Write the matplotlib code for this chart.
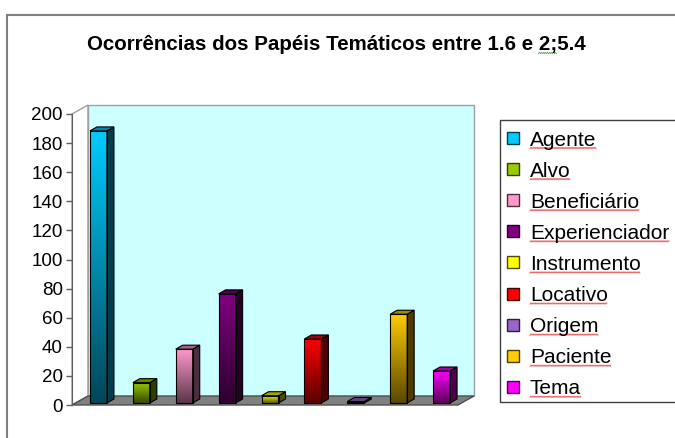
import matplotlib
matplotlib.use("Agg")
import matplotlib.pyplot as plt
import numpy as np
from matplotlib.colors import to_rgb
from matplotlib.font_manager import FontProperties
from matplotlib.patches import Polygon, Rectangle

roles = ["Agente", "Alvo", "Beneficiário", "Experienciador", "Instrumento",
         "Locativo", "Origem", "Paciente", "Tema"]
counts = [187, 14, 37, 75, 5, 44, 1, 61, 22]
colors = ["#00ccff", "#99cc00", "#ff99cc", "#800080", "#ffff00",
          "#ff0000", "#9966cc", "#ffcc00", "#ff00ff"]
yticks = list(range(0, 201, 20))
title = "Ocorrências dos Papéis Temáticos entre 1.6 e 2;5.4"
flagged = "2;"

W, H = 675, 438
plt.rcParams["font.family"] = ["Liberation Sans", "DejaVu Sans"]

fig = plt.figure(figsize=(W / 100, H / 100), dpi=100)

# overlay in pixel units, origin at top-left
ov = fig.add_axes([0, 0, 1, 1])
ov.set_xlim(0, W)
ov.set_ylim(H, 0)
ov.axis("off")

# page frame
ov.plot([7, 7], [15, H], color="#808080", lw=1.5)
ov.plot([7, W], [15, 15], color="#808080", lw=1.5)

# plot area
x0, y0, pw, ph = 72, 405, 386, 291
ax = fig.add_axes([x0 / W, (H - y0) / H, pw / W, ph / H])
ax.set_facecolor("none")
n = len(roles)
ymax = yticks[-1]
kx, ky = n / pw, ymax / ph  # data units per pixel

# walls and floor
wx, wy = 16 * kx, 9 * ky
ax.add_patch(Polygon([(0, 0), (wx, wy), (wx, ymax + wy), (0, ymax)],
                     facecolor="white", edgecolor="#a0a0a0", lw=1, clip_on=False, zorder=1))
ax.add_patch(Rectangle((wx, wy), n, ymax, facecolor="#ccffff",
                       edgecolor="#a0a0a0", lw=1, clip_on=False, zorder=1))
ax.add_patch(Polygon([(0, 0), (n, 0), (n + wx, wy), (wx, wy)],
                     facecolor="#808080", edgecolor="#505050", lw=1, clip_on=False, zorder=2))


def shade(c, f):
    return tuple(np.array(to_rgb(c)) * f)


# 3D bars: front face with vertical gradient, plus side and top faces
bw = 17 * kx
fx, fy = 5 * kx, 2 * ky
dx, dy = 7 * kx, 4 * ky
for i, (v, c) in enumerate(zip(counts, colors)):
    left = i + 0.5 - bw / 2 + fx
    right = left + bw
    bot = fy
    top = fy + v
    grad = np.linspace(1.0, 0.35, 128)[:, None, None] * np.array(to_rgb(c))[None, None, :]
    img = ax.imshow(grad, extent=[left, right, bot, top], aspect="auto",
                    origin="upper", zorder=3, interpolation="bilinear")
    face = Rectangle((left, bot), bw, v, facecolor="none", edgecolor="black",
                     lw=0.8, zorder=4, clip_on=False)
    ax.add_patch(face)
    img.set_clip_path(face)
    img.set_clip_on(True)
    ax.add_patch(Polygon([(right, bot), (right + dx, bot + dy), (right + dx, top + dy), (right, top)],
                         facecolor=shade(c, 0.3), edgecolor="black", lw=0.8, zorder=3, clip_on=False))
    ax.add_patch(Polygon([(left, top), (right, top), (right + dx, top + dy), (left + dx, top + dy)],
                         facecolor=shade(c, 0.65), edgecolor="black", lw=0.8, zorder=3, clip_on=False))

ax.set_xlim(0, n)
ax.set_ylim(0, ymax)
for side in ["top", "right", "bottom"]:
    ax.spines[side].set_visible(False)
ax.spines["left"].set_color("#606060")
ax.spines["left"].set_zorder(5)
ax.set_xticks([])
ax.set_yticks(yticks)
ax.tick_params(axis="y", direction="out", length=4.5, width=1, color="#606060",
               labelsize=13.5, pad=2)

# title
tfont = FontProperties(family=["Liberation Sans", "DejaVu Sans"], weight="bold", size=14.8)
ov.text(336, 50, title, ha="center", va="baseline", fontproperties=tfont)

# legend
ov.add_patch(Rectangle((500, 120), 200, 282, facecolor="white", edgecolor="#404040", lw=1))
lfont = FontProperties(family=["Liberation Sans", "DejaVu Sans"], size=15)
row0, step = 138, 31.1
legend_texts = []
for i, (name, c) in enumerate(zip(roles, colors)):
    yc = row0 + step * i
    ov.add_patch(Rectangle((507, yc - 6), 12, 12, facecolor=c,
                           edgecolor=shade(c, 0.3), lw=1))
    t = ov.text(530, yc + 7.5, name, ha="left", va="baseline", fontproperties=lfont)
    legend_texts.append((t, yc + 7.5))


def squiggle(xa, xb, y, color):
    xs = np.arange(xa, xb + 0.1, 1.0)
    ys = y + np.where(np.arange(len(xs)) % 2 == 0, 0.7, -0.7)
    ov.plot(xs, ys, color=color, lw=0.6, alpha=0.8)


fig.canvas.draw()
renderer = fig.canvas.get_renderer()
inv = ov.transData.inverted()
for t, base in legend_texts:
    bb = t.get_window_extent(renderer)
    xa = inv.transform((bb.x0, bb.y0))[0]
    xb = inv.transform((bb.x1, bb.y0))[0]
    squiggle(xa, xb, base + 2.5, "#e02020")

# green mark under the flagged part of the title
full_w = renderer.get_text_width_height_descent(title, tfont, ismath=False)[0]
pre = title[:title.index(flagged)]
pre_w = renderer.get_text_width_height_descent(pre, tfont, ismath=False)[0]
flag_w = renderer.get_text_width_height_descent(flagged, tfont, ismath=False)[0]
tl = 336 - full_w / 2
squiggle(tl + pre_w, tl + pre_w + flag_w, 53, "#20a020")

fig.savefig("out.png", dpi=100)
